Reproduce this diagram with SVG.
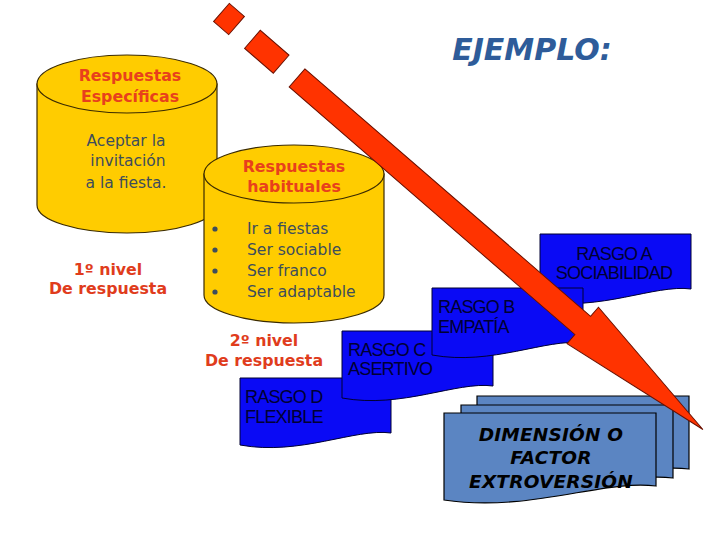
<svg xmlns="http://www.w3.org/2000/svg" width="720" height="540" viewBox="0 0 720 540">
<defs>
<style>
.cyl{fill:#ffcc00;stroke:#3a2a00;stroke-width:1.2}
.ttl{font-family:"DejaVu Sans",Verdana,sans-serif;font-weight:bold;font-size:15.8px;fill:#e8401c;text-anchor:middle}
.body{font-family:"DejaVu Sans",Verdana,sans-serif;font-size:15.5px;fill:#3d4d5c}
.lvl{font-family:"DejaVu Sans",Verdana,sans-serif;font-weight:bold;font-size:15.8px;fill:#e03c1c;text-anchor:middle}
.doc{fill:#0a0af5;stroke:#000033;stroke-width:1}
.rt{font-family:"Liberation Sans",Arial,sans-serif;font-size:18px;fill:#000033;letter-spacing:-0.8px}
.box{fill:#5b85c2;stroke:#000;stroke-width:1.2}
.dim{font-family:"DejaVu Sans",Verdana,sans-serif;font-weight:bold;font-style:italic;font-size:18.5px;fill:#000;text-anchor:middle;letter-spacing:0.2px}
.arr{fill:#ff3300;stroke:#6a1000;stroke-width:1}
</style>
<path id="docA" d="M0,0 H151 V55 C115,50 60,78 0,67 Z"/>
<path id="docBig" d="M0,0 H212 V73 C160,66 85,100 0,87 Z"/>
</defs>
<rect width="720" height="540" fill="#fff"/>

<text x="532" y="60" font-family="DejaVu Sans,Verdana,sans-serif" font-weight="bold" font-style="italic" font-size="30" fill="#2e5c9a" text-anchor="middle">EJEMPLO:</text>

<g id="cyl1">
<path class="cyl" d="M37,84 V205 A90,28 0 0 0 217,205 V84 Z"/>
<ellipse class="cyl" cx="127" cy="84" rx="90" ry="29"/>
<text class="ttl" x="130" y="81">Respuestas</text>
<text class="ttl" x="130" y="102">Específicas</text>
<text class="body" x="126" y="146" text-anchor="middle">Aceptar la</text>
<text class="body" x="128" y="166" text-anchor="middle">invitación</text>
<text class="body" x="126" y="188" text-anchor="middle">a la fiesta.</text>
</g>
<g id="nivel1">
<text class="lvl" x="108" y="275">1º nivel</text>
<text class="lvl" x="108" y="294">De respuesta</text>
</g>

<g id="cyl2">
<path class="cyl" d="M204,174 V295 A90,28 0 0 0 384,295 V174 Z"/>
<ellipse class="cyl" cx="294" cy="174" rx="90" ry="29"/>
<text class="ttl" x="294" y="172">Respuestas</text>
<text class="ttl" x="294" y="192">habituales</text>
<g fill="#3d4d5c">
<circle cx="215" cy="229" r="2.6"/>
<circle cx="215" cy="250" r="2.6"/>
<circle cx="215" cy="271" r="2.6"/>
<circle cx="215" cy="292" r="2.6"/>
</g>
<text class="body" x="247" y="234">Ir a fiestas</text>
<text class="body" x="247" y="255">Ser sociable</text>
<text class="body" x="247" y="276">Ser franco</text>
<text class="body" x="247" y="297">Ser adaptable</text>
</g>
<g id="nivel2">
<text class="lvl" x="264" y="346">2º nivel</text>
<text class="lvl" x="264" y="366">De respuesta</text>
</g>

<g id="rasgoD">
<use href="#docA" class="doc" transform="translate(240,378)"/>
<text class="rt" x="245" y="403">RASGO D</text>
<text class="rt" x="245" y="423">FLEXIBLE</text>
</g>
<g id="rasgoC">
<use href="#docA" class="doc" transform="translate(342,331)"/>
<text class="rt" x="348" y="356">RASGO C</text>
<text class="rt" x="348" y="375">ASERTIVO</text>
</g>
<g id="rasgoA">
<use href="#docA" class="doc" transform="translate(540,234)"/>
<text class="rt" x="614" y="260" text-anchor="middle">RASGO A</text>
<text class="rt" x="614" y="279" text-anchor="middle">SOCIABILIDAD</text>
</g>
<g id="rasgoB">
<use href="#docA" class="doc" transform="translate(432,288)"/>
<text class="rt" x="438" y="313">RASGO B</text>
<text class="rt" x="438" y="333">EMPATÍA</text>
</g>

<g id="dimension">
<use href="#docBig" class="box" transform="translate(477,396)"/>
<use href="#docBig" class="box" transform="translate(461,405)"/>
<use href="#docBig" class="box" transform="translate(444,413)"/>
<text class="dim" x="551" y="441">DIMENSIÓN O</text>
<text class="dim" x="551" y="464">FACTOR</text>
<text class="dim" x="551" y="488">EXTROVERSIÓN</text>
</g>

<g id="connectors" transform="translate(229,19) rotate(40.9)">
<rect class="arr" x="-10" y="-12" width="20" height="24"/>
<rect class="arr" x="31" y="-12" width="38" height="24"/>
<path class="arr" d="M90,-12 L468,-12 L468,-24 L627,0 L468,24 L468,12 L90,12 Z"/>
</g>
</svg>
